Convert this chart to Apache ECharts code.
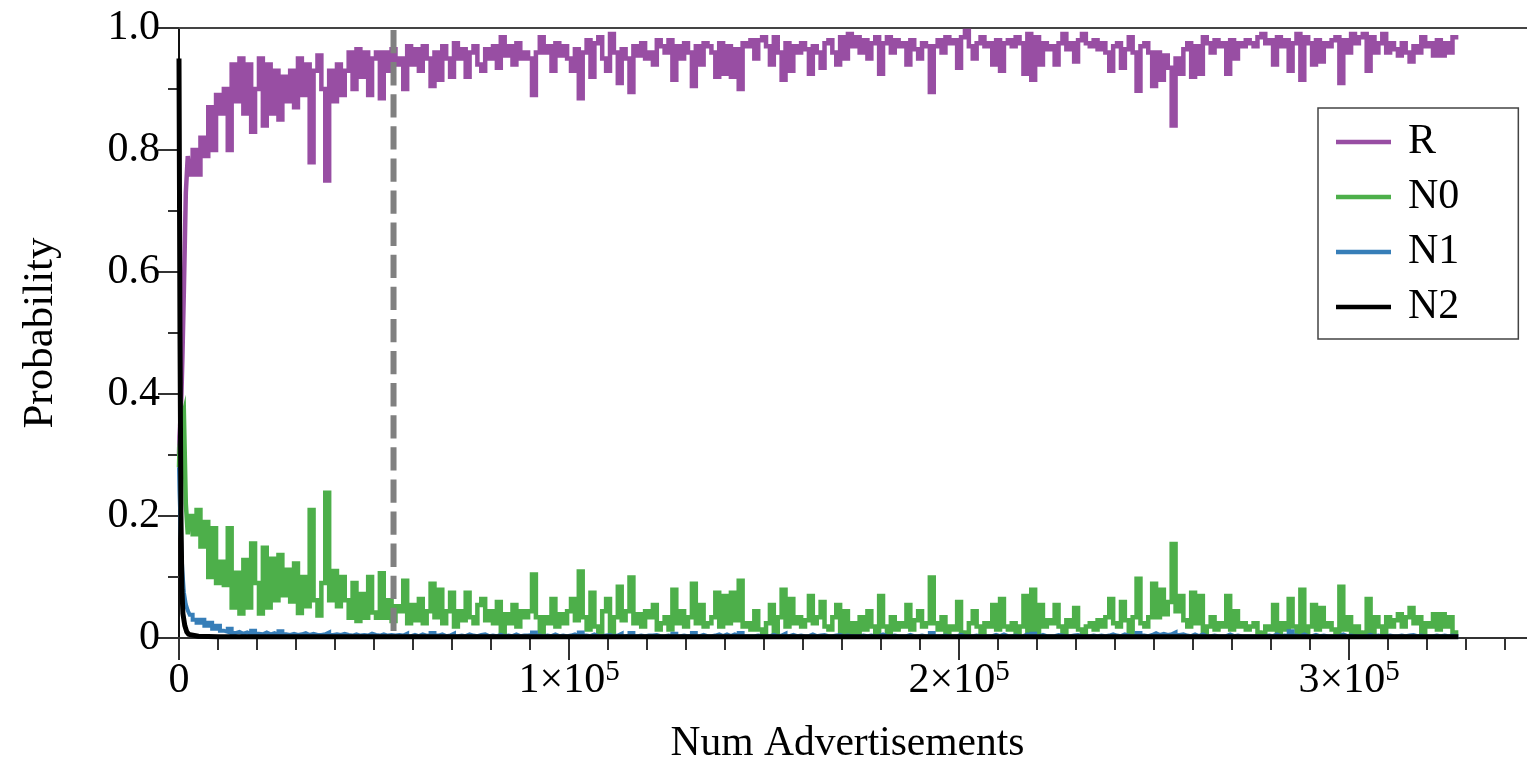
<!DOCTYPE html>
<html>
<head>
<meta charset="utf-8">
<script src="https://cdn.jsdelivr.net/npm/echarts@6/dist/echarts.min.js"></script>
<style>
  html, body { margin: 0; padding: 0; background: #ffffff; }
  #chart { width: 1527px; height: 769px; }
</style>
</head>
<body>
<div id="chart"></div>
<script>
// Class probabilities vs. number of advertisements seen
const seriesNames = ['R', 'N0', 'N1', 'N2'];
const seriesColors = ['#984ea3', '#4daf4a', '#377eb8', '#000000'];

// sample grid: fine steps through the initial transient, then every 1000 ads
const earlySamples = [0, 250, 500, 750, 1000, 1500, 2000, 2500, 3000];
const sampleStep = 1000;
const firstRegularSample = 4000;
const lastSample = 328000;

const rProb = [
  0.30, 0.33, 0.36, 0.40, 0.46, 0.57, 0.73, 0.79, 0.76,
  0.80, 0.76, 0.82, 0.79, 0.87, 0.80, 0.89, 0.86, 0.90, 0.80,
  0.94, 0.88, 0.95, 0.86, 0.94, 0.83, 0.90, 0.95, 0.84, 0.94,
  0.86, 0.93, 0.85, 0.92, 0.88, 0.93, 0.87, 0.95, 0.89, 0.94,
  0.78, 0.93, 0.955, 0.90, 0.75, 0.93, 0.88, 0.94, 0.89, 0.93,
  0.96, 0.90, 0.965, 0.92, 0.96, 0.89, 0.95, 0.96, 0.885, 0.96,
  0.93, 0.965, 0.94,
  0.95, 0.90, 0.97, 0.94, 0.965, 0.93, 0.97, 0.95, 0.905, 0.96,
  0.915, 0.97, 0.95, 0.92, 0.975, 0.95, 0.965, 0.92, 0.96, 0.97,
  0.94, 0.93, 0.965, 0.95, 0.97, 0.935, 0.985, 0.955, 0.97, 0.94,
  0.975, 0.95, 0.96, 0.95, 0.89, 0.96, 0.985, 0.96, 0.97, 0.93,
  0.975, 0.955, 0.97, 0.95, 0.93, 0.965, 0.885, 0.96, 0.98, 0.92,
  0.975, 0.985, 0.95, 0.93, 0.99, 0.96, 0.91, 0.965, 0.95, 0.895,
  0.97, 0.955, 0.975, 0.95, 0.96, 0.94, 0.98, 0.97, 0.96, 0.98,
  0.915, 0.97, 0.95, 0.975, 0.96, 0.905, 0.97,
  0.94, 0.975, 0.97, 0.96, 0.92, 0.975, 0.925, 0.97, 0.92, 0.965,
  0.90, 0.975, 0.97, 0.98, 0.95, 0.98, 0.985, 0.97, 0.94, 0.985,
  0.96, 0.915, 0.975, 0.93, 0.97, 0.96, 0.975, 0.965, 0.925, 0.97,
  0.96, 0.935, 0.975, 0.98, 0.96, 0.94, 0.985, 0.95, 0.99, 0.97,
  0.985, 0.96, 0.98, 0.95, 0.975, 0.985, 0.925, 0.975, 0.985, 0.96,
  0.98, 0.97, 0.975, 0.94, 0.98, 0.965, 0.95, 0.975, 0.97, 0.895,
  0.97, 0.98, 0.96, 0.985, 0.975, 0.98, 0.935, 0.985, 0.995, 0.97,
  0.95, 0.975, 0.985, 0.97, 0.975, 0.94, 0.98,
  0.93, 0.975, 0.98, 0.97, 0.985, 0.975, 0.925, 0.99, 0.915, 0.985,
  0.94, 0.975, 0.965, 0.97, 0.94, 0.975, 0.99, 0.965, 0.975, 0.945,
  0.98, 0.99, 0.975, 0.97, 0.98, 0.965, 0.975, 0.96, 0.93, 0.97,
  0.975, 0.935, 0.965, 0.985, 0.96, 0.897, 0.97, 0.975, 0.96, 0.905,
  0.96, 0.915, 0.955, 0.935, 0.84, 0.95, 0.925, 0.965, 0.975, 0.92,
  0.97, 0.925, 0.985, 0.975, 0.96, 0.98, 0.97, 0.975, 0.925, 0.98,
  0.95, 0.975, 0.97, 0.98, 0.975, 0.97, 0.985, 0.99, 0.975, 0.98,
  0.94, 0.985, 0.97, 0.98, 0.93, 0.975, 0.99,
  0.915, 0.985, 0.975, 0.94, 0.98, 0.945, 0.975, 0.97, 0.98, 0.985,
  0.91, 0.98, 0.96, 0.99, 0.975, 0.985, 0.99, 0.93, 0.985, 0.96,
  0.975, 0.99, 0.96, 0.975, 0.965, 0.955, 0.975, 0.96, 0.945, 0.97,
  0.96, 0.985, 0.97, 0.975, 0.955, 0.98, 0.955, 0.975, 0.96, 0.985,
  0.985
];

const n0Prob = [
  0.28, 0.31, 0.33, 0.35, 0.36, 0.37, 0.22, 0.17, 0.20,
  0.17, 0.21, 0.15, 0.19, 0.10, 0.18, 0.09, 0.125, 0.087, 0.18,
  0.05, 0.107, 0.04, 0.128, 0.05, 0.155, 0.09, 0.04, 0.148, 0.05,
  0.13, 0.062, 0.136, 0.07, 0.112, 0.06, 0.122, 0.041, 0.10, 0.052,
  0.21, 0.062, 0.037, 0.09, 0.238, 0.062, 0.11, 0.052, 0.10, 0.062,
  0.033, 0.09, 0.028, 0.072, 0.033, 0.10, 0.042, 0.033, 0.106, 0.033,
  0.062, 0.028, 0.052,
  0.044, 0.094, 0.024, 0.054, 0.029, 0.064, 0.024, 0.044, 0.089, 0.034,
  0.079, 0.024, 0.044, 0.074, 0.019, 0.044, 0.029, 0.074, 0.034, 0.024,
  0.054, 0.064, 0.029, 0.044, 0.024, 0.059, 0.009, 0.039, 0.024, 0.054,
  0.019, 0.044, 0.034, 0.044, 0.104, 0.034, 0.009, 0.034, 0.024, 0.064,
  0.019, 0.039, 0.024, 0.044, 0.064, 0.029, 0.109, 0.034, 0.014, 0.074,
  0.019, 0.009, 0.044, 0.064, 0.008, 0.034, 0.084, 0.029, 0.044, 0.099,
  0.024, 0.039, 0.019, 0.044, 0.034, 0.054, 0.014, 0.024, 0.034, 0.014,
  0.079, 0.024, 0.044, 0.019, 0.034, 0.089, 0.024,
  0.054, 0.019, 0.024, 0.034, 0.074, 0.019, 0.069, 0.024, 0.074, 0.029,
  0.094, 0.019, 0.024, 0.014, 0.044, 0.014, 0.009, 0.024, 0.054, 0.009,
  0.034, 0.079, 0.019, 0.064, 0.024, 0.034, 0.019, 0.029, 0.069, 0.024,
  0.034, 0.059, 0.019, 0.014, 0.034, 0.054, 0.009, 0.044, 0.008, 0.024,
  0.009, 0.034, 0.014, 0.044, 0.019, 0.009, 0.069, 0.019, 0.009, 0.034,
  0.014, 0.024, 0.019, 0.054, 0.014, 0.029, 0.044, 0.019, 0.024, 0.099,
  0.024, 0.014, 0.034, 0.009, 0.019, 0.014, 0.059, 0.009, 0.008, 0.024,
  0.044, 0.019, 0.009, 0.024, 0.019, 0.054, 0.014,
  0.064, 0.019, 0.014, 0.024, 0.009, 0.019, 0.069, 0.008, 0.079, 0.009,
  0.054, 0.019, 0.029, 0.024, 0.054, 0.019, 0.008, 0.029, 0.019, 0.049,
  0.014, 0.008, 0.019, 0.024, 0.014, 0.029, 0.019, 0.034, 0.064, 0.024,
  0.019, 0.059, 0.029, 0.009, 0.034, 0.097, 0.024, 0.019, 0.034, 0.089,
  0.034, 0.079, 0.039, 0.059, 0.154, 0.044, 0.069, 0.029, 0.019, 0.074,
  0.024, 0.069, 0.009, 0.019, 0.034, 0.014, 0.024, 0.019, 0.069, 0.014,
  0.044, 0.019, 0.024, 0.014, 0.019, 0.024, 0.009, 0.008, 0.019, 0.014,
  0.054, 0.009, 0.024, 0.014, 0.064, 0.019, 0.008,
  0.079, 0.009, 0.019, 0.054, 0.014, 0.049, 0.019, 0.024, 0.014, 0.009,
  0.084, 0.014, 0.034, 0.008, 0.019, 0.009, 0.008, 0.064, 0.009, 0.034,
  0.019, 0.008, 0.034, 0.019, 0.029, 0.039, 0.019, 0.034, 0.049, 0.024,
  0.034, 0.009, 0.024, 0.019, 0.039, 0.014, 0.039, 0.019, 0.034, 0.009,
  0.009
];

const n1Prob = [
  0.28, 0.24, 0.19, 0.14, 0.11, 0.075, 0.055, 0.045, 0.038,
  0.03, 0.025, 0.03, 0.02, 0.025, 0.015, 0.02, 0.012, 0.01, 0.015,
  0.008, 0.01, 0.007, 0.009, 0.006, 0.012, 0.007, 0.006, 0.009, 0.006,
  0.008, 0.005, 0.011, 0.006, 0.005, 0.007, 0.005, 0.006, 0.008, 0.005,
  0.007, 0.005, 0.005, 0.006, 0.009, 0.005, 0.006, 0.005, 0.007, 0.005,
  0.004, 0.006, 0.004, 0.005, 0.004, 0.007, 0.005, 0.004, 0.006, 0.004,
  0.005, 0.004, 0.005,
  0.004, 0.007, 0.003, 0.005, 0.003, 0.006, 0.004, 0.003, 0.008, 0.004,
  0.006, 0.003, 0.004, 0.007, 0.003, 0.004, 0.003, 0.006, 0.004, 0.003,
  0.005, 0.006, 0.003, 0.004,
  0.003, 0.005, 0.003, 0.004, 0.003, 0.006, 0.003, 0.004, 0.004, 0.005,
  0.009, 0.004, 0.003, 0.004, 0.003, 0.006, 0.003, 0.004, 0.003, 0.004,
  0.006, 0.003, 0.009, 0.004, 0.003, 0.006, 0.003, 0.003, 0.004, 0.005,
  0.003, 0.004, 0.007, 0.003, 0.004, 0.008, 0.003, 0.004, 0.003, 0.004,
  0.004, 0.005, 0.003, 0.003, 0.004, 0.003, 0.007, 0.003, 0.004, 0.003,
  0.004, 0.008, 0.003, 0.005, 0.003, 0.003, 0.004, 0.006, 0.003, 0.006,
  0.003, 0.006, 0.004, 0.008, 0.003, 0.003, 0.003, 0.004, 0.003, 0.003,
  0.003, 0.005, 0.003, 0.004, 0.007, 0.003, 0.005, 0.003, 0.004, 0.003,
  0.003, 0.006, 0.003, 0.004, 0.005, 0.003, 0.003, 0.004, 0.005, 0.003,
  0.004, 0.003, 0.003, 0.003, 0.004, 0.003, 0.004, 0.003, 0.003, 0.006,
  0.003, 0.003, 0.004, 0.003, 0.003, 0.003, 0.005, 0.003, 0.003, 0.004,
  0.003, 0.003, 0.008, 0.003, 0.003, 0.004, 0.003, 0.003, 0.003, 0.005,
  0.003, 0.003, 0.003, 0.004, 0.003, 0.003, 0.003, 0.003, 0.005, 0.003,
  0.006, 0.003, 0.003, 0.004, 0.003, 0.003, 0.006, 0.003, 0.007, 0.003,
  0.005, 0.003, 0.003, 0.003, 0.005, 0.004, 0.003, 0.003, 0.004, 0.005,
  0.003, 0.003, 0.003, 0.004, 0.003, 0.004, 0.003, 0.004, 0.006, 0.004,
  0.003, 0.006, 0.004, 0.003, 0.004, 0.008, 0.004, 0.003, 0.005, 0.008,
  0.005, 0.007, 0.005, 0.006, 0.009, 0.005, 0.006, 0.004, 0.003, 0.006,
  0.003, 0.006, 0.003, 0.003, 0.004, 0.003, 0.003, 0.003, 0.006, 0.003,
  0.004, 0.003, 0.003, 0.003, 0.003, 0.003, 0.003, 0.003, 0.004, 0.003,
  0.006, 0.003, 0.004, 0.003, 0.011, 0.004, 0.003, 0.006, 0.003, 0.003,
  0.005, 0.003, 0.004, 0.003, 0.003, 0.003, 0.003, 0.006, 0.003, 0.004,
  0.003, 0.003, 0.003, 0.003, 0.005, 0.003, 0.004, 0.003, 0.003, 0.004,
  0.003, 0.003, 0.004, 0.003, 0.004, 0.005, 0.003, 0.004, 0.003, 0.003,
  0.003, 0.004, 0.003, 0.004, 0.003, 0.004, 0.003, 0.003
];

// N2 is flat after the first few thousand ads, so it is sampled more sparsely
const n2Samples = [0, 250, 500, 750, 1000, 1500, 2000, 2500, 3000, 5000, 10000,
  50000, 100000, 150000, 200000, 250000, 300000, 328000];
const n2Prob = [0.95, 0.5, 0.2, 0.08, 0.04, 0.02, 0.01, 0.006, 0.004, 0.003, 0.002,
  0.002, 0.002, 0.002, 0.002, 0.002, 0.002, 0.002];

// vertical marker
const cutoffAds = 55000;

// axis ticks
const xMax = 345600;
const xMajorTicks = [0, 100000, 200000, 300000];
const xMinorTicks = [10000, 20000, 30000, 40000, 50000, 60000, 70000, 80000, 90000,
  110000, 120000, 130000, 140000, 150000, 160000, 170000, 180000, 190000,
  210000, 220000, 230000, 240000, 250000, 260000, 270000, 280000, 290000,
  310000, 320000, 330000, 340000];

const sampleAds = earlySamples.slice();
for (let x = firstRegularSample; x <= lastSample; x += sampleStep) sampleAds.push(x);

function pairs(xs, ys) { return ys.map((y, i) => [xs[i], y]); }

const serif = "'Liberation Serif', 'Times New Roman', serif";
const axisGray = '#333333';

const chart = echarts.init(document.getElementById('chart'), null, { renderer: 'canvas' });

const lineSeries = [rProb, n0Prob, n1Prob].map((vals, i) => ({
  name: seriesNames[i],
  type: 'line',
  step: 'middle',
  data: pairs(sampleAds, vals),
  color: seriesColors[i],
  showSymbol: false,
  symbol: 'none',
  lineStyle: { width: i === 2 ? 4 : 4.5, color: seriesColors[i], join: 'miter' },
  z: 2 + i
}));
lineSeries.push({
  name: seriesNames[3],
  type: 'line',
  data: pairs(n2Samples, n2Prob),
  color: seriesColors[3],
  showSymbol: false,
  symbol: 'none',
  lineStyle: { width: 5, color: seriesColors[3], join: 'round' },
  z: 5
});
lineSeries.push({
  name: 'cutoff',
  type: 'line',
  data: [[cutoffAds, 1], [cutoffAds, 0]],
  showSymbol: false,
  symbol: 'none',
  silent: true,
  lineStyle: { width: 6, color: '#808080', type: [23.3, 8.8], dashOffset: -2 },
  z: 6
});

chart.setOption({
  animation: false,
  backgroundColor: '#ffffff',
  grid: { left: 179, right: 0, top: 28, bottom: 131, containLabel: false, outerBoundsMode: 'none' },
  legend: {
    data: seriesNames,
    orient: 'vertical',
    left: 1318,
    top: 108,
    icon: 'rect',
    itemWidth: 55,
    itemHeight: 4.5,
    itemGap: 11,
    padding: [12, 59, 10, 18],
    borderColor: '#444444',
    borderWidth: 1.5,
    backgroundColor: '#ffffff',
    selectedMode: false,
    textStyle: { fontSize: 42, fontFamily: serif, color: '#000', lineHeight: 44, padding: [0, 0, 0, 12] }
  },
  xAxis: [
    {
      type: 'value', min: 0, max: xMax, position: 'bottom',
      name: 'Num Advertisements', nameLocation: 'middle', nameGap: 85,
      nameTextStyle: { fontSize: 41.5, fontFamily: serif, color: '#000', padding: [0, 11, 0, 0] },
      axisLine: { show: true, onZero: false, lineStyle: { color: axisGray, width: 2 } },
      axisTick: { show: true, customValues: xMajorTicks, length: 22, lineStyle: { color: axisGray, width: 2 } },
      axisLabel: {
        customValues: xMajorTicks,
        margin: 20,
        fontSize: 42, fontFamily: serif, color: '#000', lineHeight: 46,
        formatter: v => v === 0 ? '0' : (v / 100000) + '×10{sup|5}',
        rich: { sup: { fontSize: 29, fontFamily: serif, color: '#000', lineHeight: 16, verticalAlign: 'top' } }
      },
      splitLine: { show: false }
    },
    {
      type: 'value', min: 0, max: xMax, position: 'bottom',
      axisLine: { show: false },
      axisTick: { show: true, customValues: xMinorTicks, length: 12, lineStyle: { color: axisGray, width: 2 } },
      axisLabel: { show: false },
      splitLine: { show: false }
    },
    {
      type: 'value', min: 0, max: xMax, position: 'top',
      axisLine: { show: true, onZero: false, lineStyle: { color: '#444444', width: 2 } },
      axisTick: { show: false },
      axisLabel: { show: false },
      splitLine: { show: false }
    }
  ],
  yAxis: {
    type: 'value', min: 0, max: 1, interval: 0.2,
    name: 'Probability', nameLocation: 'middle', nameGap: 117, nameRotate: 90,
    nameTextStyle: { fontSize: 43, fontFamily: serif, color: '#000' },
    axisLine: { show: true, onZero: false, lineStyle: { color: '#111111', width: 2 } },
    axisTick: { show: true, length: 21, lineStyle: { color: axisGray, width: 2 } },
    minorTick: { show: true, splitNumber: 2, length: 11, lineStyle: { color: axisGray, width: 2 } },
    axisLabel: {
      margin: 19, fontSize: 42, fontFamily: serif, color: '#000',
      formatter: v => v === 0 ? '0' : v.toFixed(1)
    },
    splitLine: { show: false },
    minorSplitLine: { show: false }
  },
  series: lineSeries
});
</script>
</body>
</html>
